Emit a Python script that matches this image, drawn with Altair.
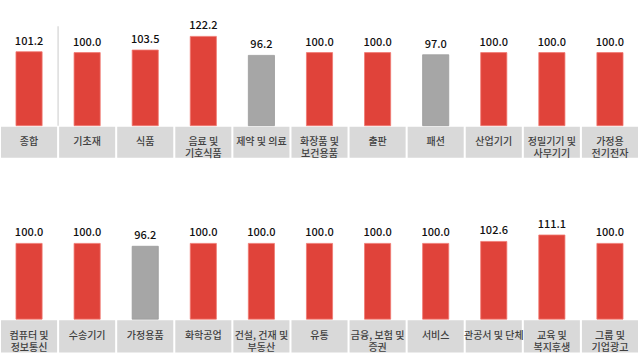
import altair as alt
import pandas as pd

cats_top = ["종합", "기초재", "식품", "음료 및\n기호식품", "제약 및 의료", "화장품 및\n보건용품",
            "출판", "패션", "산업기기", "정밀기기 및\n사무기기", "가정용\n전기전자"]
vals_top = [101.2, 100.0, 103.5, 122.2, 96.2, 100.0, 100.0, 97.0, 100.0, 100.0, 100.0]

cats_bot = ["컴퓨터 및\n정보통신", "수송기기", "가정용품", "화학공업", "건설, 건재 및\n부동산", "유통",
            "금융, 보험 및\n증권", "서비스", "관공서 및 단체", "교육 및\n복지후생", "그룹 및\n기업광고"]
vals_bot = [100.0, 100.0, 96.2, 100.0, 100.0, 100.0, 100.0, 100.0, 102.6, 111.1, 100.0]

RED = "#e0433a"
GRAY = "#a6a6a6"


def make_df(cats, vals):
    return pd.DataFrame({
        "cat": cats,
        "val": vals,
        "label": [f"{v:.1f}" for v in vals],
        "col": [GRAY if v < 100 else RED for v in vals],
        "edge": ["#9a9a9a" if v < 100 else "#f07a72" for v in vals],
        "lines": [c.split("\n") for c in cats],
    })


def panel(cats, vals, height, ymin, ymax, box_lo, box_hi, sep=False):
    df = make_df(cats, vals)
    x = alt.X("cat:N", sort=cats, axis=None,
              scale=alt.Scale(paddingInner=0, paddingOuter=0))
    yscale = alt.Scale(domain=[ymin, ymax], nice=False, zero=False)
    base = alt.Chart(df)
    boxes = base.mark_bar(color="#d9d9d9", width=alt.RelativeBandSize(0.965)).encode(
        x=x,
        y=alt.Y("lo:Q", scale=yscale, axis=None),
        y2="hi:Q",
    ).transform_calculate(lo=str(box_lo), hi=str(box_hi))
    bars = base.mark_bar(width=alt.RelativeBandSize(0.45), strokeWidth=0.8).encode(
        x=x,
        y=alt.Y("val:Q", scale=yscale, axis=None),
        y2=alt.datum(0),
        color=alt.Color("col:N", scale=None),
        stroke=alt.Stroke("edge:N", scale=None),
    )
    labels = base.mark_text(dy=-10, fontSize=11, font="Noto Sans CJK KR",
                            color="#111111", fontWeight=500).encode(
        x=x,
        y=alt.Y("val:Q", scale=yscale, axis=None),
        text="label:N",
    )
    boxtext = base.mark_text(fontSize=10, font="Noto Sans CJK KR", color="#404040",
                             fontWeight=500, lineHeight=11.5, baseline="middle").encode(
        x=x,
        y=alt.datum((box_lo + box_hi) / 2),
        text="lines",
    )
    layers = [boxes, bars, labels, boxtext]
    if sep:
        sdf = pd.DataFrame({"cat": [cats[1]]})
        rule = alt.Chart(sdf).mark_rule(color="#dcdcdc", strokeWidth=1.5).encode(
            x=alt.X("cat:N", sort=cats, bandPosition=0, axis=None,
                    scale=alt.Scale(paddingInner=0, paddingOuter=0)),
            y=alt.datum(0),
            y2=alt.datum(136),
        )
        layers.append(rule)
    return alt.layer(*layers).properties(width=639, height=height)


top = panel(cats_top, vals_top, 160, -47, 172, -44, -1.5, sep=True)
bot = panel(cats_bot, vals_bot, 164, -46, 170.5, -44, -1.5)

chart = alt.vconcat(top, bot, spacing=30).properties(
    padding=0, background="white"
).configure_view(stroke=None).configure_concat(spacing=30)

chart.save("out.html", embed_options={"renderer": "svg", "actions": False})
